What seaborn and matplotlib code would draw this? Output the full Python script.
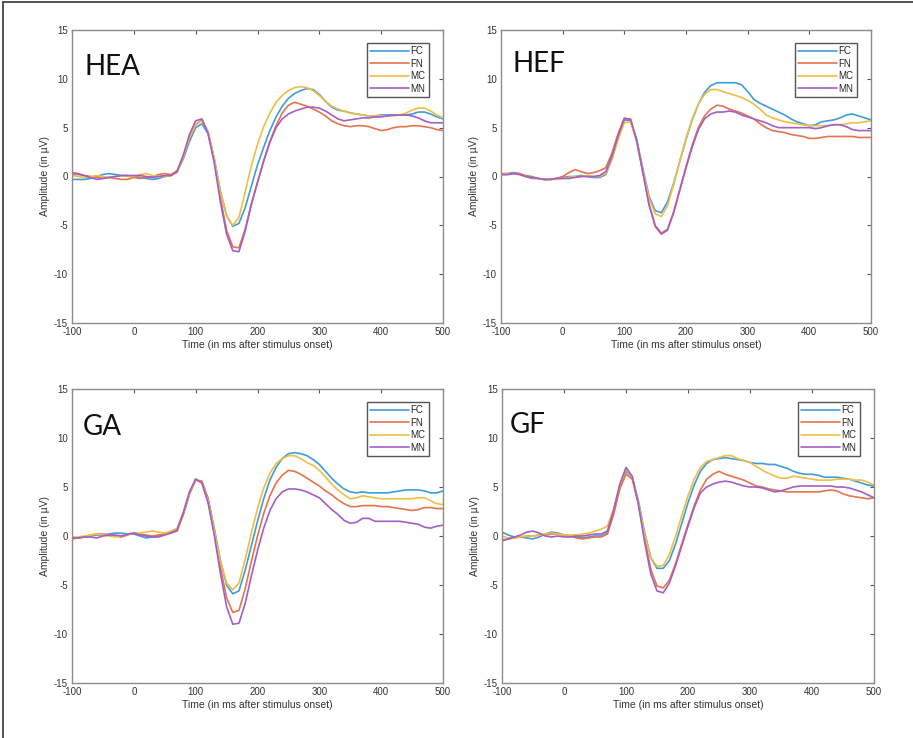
import numpy as np
import pandas as pd
import seaborn as sns
import matplotlib.pyplot as plt
from matplotlib.lines import Line2D

# sampled every 10 ms, -100 .. 500
TIME = list(range(-100, 501, 10))
CONDITIONS = ["FC", "FN", "MC", "MN"]
PALETTE = {"FC": "#3f9ddb", "FN": "#e5744d", "MC": "#efbf45", "MN": "#a45ec6"}

HEA_FC = [-0.3, -0.3, -0.3, -0.2, 0.0, 0.2, 0.3, 0.2, 0.1, 0.1,
          0.0, -0.1, -0.2, -0.3, -0.2, 0.0, 0.1, 0.5, 1.8, 3.6,
          5.0, 5.4, 4.4, 1.8, -1.5, -4.0, -5.1, -4.8, -3.2, -1.0,
          1.2, 3.0, 4.7, 6.1, 7.2, 8.0, 8.5, 8.8, 9.0, 8.9,
          8.4, 7.7, 7.1, 6.8, 6.7, 6.5, 6.4, 6.3, 6.2, 6.2,
          6.3, 6.3, 6.3, 6.3, 6.3, 6.4, 6.6, 6.6, 6.4, 6.1, 5.9]
HEA_FN = [0.2, 0.2, 0.1, 0.0, -0.1, -0.2, -0.1, -0.2, -0.3, -0.3,
          -0.1, -0.2, -0.1, 0.0, 0.2, 0.3, 0.2, 0.6, 2.1, 4.0,
          5.3, 5.8, 4.6, 1.8, -2.2, -5.5, -7.2, -7.3, -5.4, -2.8,
          -0.6, 1.6, 3.6, 5.2, 6.5, 7.3, 7.6, 7.4, 7.2, 6.9,
          6.6, 6.2, 5.7, 5.4, 5.2, 5.1, 5.2, 5.2, 5.1, 4.9,
          4.7, 4.8, 5.0, 5.1, 5.1, 5.2, 5.2, 5.1, 5.0, 4.8, 4.7]
HEA_MC = [0.1, 0.0, -0.1, 0.0, 0.1, 0.0, -0.1, 0.0, 0.1, 0.0,
          0.0, 0.2, 0.3, 0.1, 0.0, 0.0, 0.1, 0.4, 2.0, 4.0,
          5.3, 5.7, 4.6, 1.8, -1.6, -4.0, -5.0, -4.2, -1.6, 1.1,
          3.3, 5.1, 6.5, 7.6, 8.3, 8.8, 9.1, 9.2, 9.1, 8.8,
          8.3, 7.7, 7.2, 6.9, 6.7, 6.5, 6.4, 6.3, 6.2, 6.2,
          6.2, 6.2, 6.2, 6.3, 6.5, 6.8, 7.0, 7.0, 6.7, 6.3, 6.0]
HEA_MN = [0.4, 0.3, 0.1, -0.1, -0.3, -0.2, -0.1, 0.0, 0.1, 0.1,
          0.1, 0.1, 0.0, -0.1, 0.0, 0.1, 0.1, 0.5, 2.2, 4.3,
          5.7, 5.9, 4.4, 1.4, -2.6, -5.9, -7.6, -7.7, -5.6, -2.9,
          -0.6, 1.6, 3.5, 5.0, 5.9, 6.4, 6.7, 6.9, 7.1, 7.1,
          7.0, 6.7, 6.3, 5.9, 5.7, 5.8, 5.9, 6.0, 6.0, 6.1,
          6.1, 6.2, 6.3, 6.3, 6.3, 6.2, 6.0, 5.7, 5.5, 5.5, 5.5]

HEF_FC = [0.3, 0.3, 0.4, 0.3, 0.0, -0.2, -0.2, -0.3, -0.3, -0.2,
          -0.1, 0.0, 0.0, 0.1, 0.0, -0.1, -0.1, 0.2, 1.8, 4.0,
          5.8, 5.7, 3.8, 0.8, -2.0, -3.5, -3.7, -2.6, -0.7, 1.6,
          3.8, 5.8, 7.4, 8.6, 9.3, 9.6, 9.6, 9.6, 9.6, 9.4,
          8.7, 7.9, 7.5, 7.2, 6.9, 6.6, 6.3, 5.9, 5.6, 5.4,
          5.2, 5.3, 5.6, 5.7, 5.8, 6.0, 6.3, 6.4, 6.2, 6.0, 5.8]
HEF_FN = [0.2, 0.2, 0.3, 0.3, 0.1, 0.0, -0.2, -0.3, -0.3, -0.2,
          0.0, 0.4, 0.7, 0.5, 0.3, 0.4, 0.6, 0.9, 2.4, 4.4,
          6.0, 5.8, 3.6, 0.5, -2.8, -5.0, -5.8, -5.4, -3.6, -1.3,
          1.0, 3.2, 5.0, 6.2, 6.9, 7.3, 7.2, 6.9, 6.7, 6.5,
          6.2, 5.9, 5.4, 5.0, 4.7, 4.6, 4.5, 4.3, 4.2, 4.1,
          3.9, 3.9, 4.0, 4.1, 4.1, 4.1, 4.1, 4.1, 4.0, 4.0, 4.0]
HEF_MC = [0.2, 0.3, 0.3, 0.2, 0.0, -0.1, -0.2, -0.3, -0.3, -0.3,
          -0.2, -0.1, 0.0, 0.0, 0.1, 0.0, 0.0, 0.3, 1.8, 3.8,
          5.5, 5.6, 3.6, 0.6, -2.2, -3.8, -4.1, -3.0, -0.8, 1.6,
          3.9, 5.9, 7.4, 8.4, 8.9, 8.9, 8.7, 8.5, 8.3, 8.1,
          7.8, 7.4, 6.9, 6.3, 6.0, 5.8, 5.6, 5.5, 5.4, 5.3,
          5.2, 5.2, 5.2, 5.2, 5.3, 5.3, 5.4, 5.5, 5.5, 5.6, 5.7]
HEF_MN = [0.2, 0.2, 0.3, 0.2, 0.0, -0.1, -0.2, -0.3, -0.3, -0.2,
          -0.2, -0.2, -0.1, 0.0, 0.0, 0.0, 0.1, 0.5, 2.1, 4.2,
          5.9, 5.9, 3.7, 0.4, -2.9, -5.1, -5.9, -5.5, -3.7, -1.4,
          0.9, 3.0, 4.8, 5.9, 6.4, 6.6, 6.6, 6.7, 6.6, 6.3,
          6.1, 5.9, 5.7, 5.5, 5.2, 5.0, 5.0, 5.0, 5.0, 5.0,
          5.0, 4.9, 5.0, 5.2, 5.3, 5.3, 5.1, 4.8, 4.7, 4.7, 4.7]

GA_FC = [-0.2, -0.2, -0.1, 0.0, 0.1, 0.1, 0.2, 0.3, 0.3, 0.2,
         0.2, 0.0, -0.2, -0.1, 0.0, 0.2, 0.4, 0.7, 2.2, 4.3,
         5.8, 5.5, 3.8, 0.8, -2.5, -5.0, -5.9, -5.6, -3.5, -1.0,
         1.5, 3.8, 5.7, 7.0, 7.9, 8.4, 8.5, 8.4, 8.2, 7.8,
         7.3, 6.6, 5.9, 5.3, 4.8, 4.5, 4.4, 4.5, 4.4, 4.4,
         4.4, 4.4, 4.5, 4.6, 4.7, 4.7, 4.7, 4.6, 4.4, 4.4, 4.6]
GA_FN = [-0.3, -0.2, -0.1, 0.1, 0.2, 0.2, 0.1, 0.0, -0.1, 0.1,
         0.3, 0.2, 0.1, 0.0, 0.1, 0.2, 0.3, 0.5, 2.2, 4.3,
         5.7, 5.6, 3.8, 0.6, -3.2, -6.3, -7.8, -7.6, -5.4, -2.6,
         0.0, 2.3, 4.1, 5.4, 6.2, 6.7, 6.6, 6.3, 5.9, 5.5,
         5.1, 4.6, 4.2, 3.7, 3.3, 3.0, 3.0, 3.1, 3.1, 3.1,
         3.0, 3.0, 2.9, 2.8, 2.7, 2.6, 2.7, 2.9, 2.9, 2.8, 2.8]
GA_MC = [-0.1, -0.1, 0.0, 0.1, 0.2, 0.1, 0.0, -0.1, 0.0, 0.2,
         0.3, 0.3, 0.4, 0.5, 0.4, 0.3, 0.5, 0.8, 2.4, 4.4,
         5.8, 5.4, 3.6, 0.6, -2.6, -4.8, -5.5, -4.8, -2.4, 0.3,
         2.8, 4.9, 6.4, 7.4, 7.9, 8.2, 8.2, 7.9, 7.5, 7.2,
         6.7, 6.0, 5.3, 4.7, 4.2, 3.8, 3.9, 4.1, 4.0, 3.9,
         3.8, 3.8, 3.8, 3.8, 3.8, 3.8, 3.9, 3.9, 3.6, 3.3, 3.2]
GA_MN = [-0.2, -0.2, -0.1, -0.1, -0.2, 0.0, 0.1, 0.1, 0.0, 0.2,
         0.3, 0.1, 0.0, -0.1, -0.1, 0.1, 0.3, 0.6, 2.4, 4.5,
         5.8, 5.4, 3.4, 0.1, -3.8, -7.2, -9.0, -8.9, -6.9, -4.1,
         -1.5, 0.8, 2.6, 3.8, 4.5, 4.8, 4.8, 4.7, 4.5, 4.2,
         3.9, 3.3, 2.7, 2.2, 1.6, 1.3, 1.4, 1.8, 1.8, 1.5,
         1.5, 1.5, 1.5, 1.5, 1.4, 1.3, 1.2, 0.9, 0.8, 1.0, 1.1]

GF_FC = [0.4, 0.1, -0.1, -0.1, -0.2, -0.3, -0.1, 0.2, 0.4, 0.3,
         0.1, 0.0, -0.1, -0.2, -0.1, 0.0, 0.0, 0.3, 2.4, 5.0,
         6.6, 6.0, 3.6, 0.4, -2.2, -3.3, -3.3, -2.5, -0.8, 1.3,
         3.4, 5.2, 6.6, 7.4, 7.8, 7.9, 8.0, 7.9, 7.8, 7.7,
         7.5, 7.4, 7.4, 7.3, 7.3, 7.1, 6.9, 6.6, 6.4, 6.3,
         6.3, 6.2, 6.0, 6.0, 6.0, 5.9, 5.8, 5.6, 5.4, 5.2, 5.1]
GF_FN = [-0.4, -0.3, -0.2, -0.1, 0.0, 0.0, 0.1, 0.1, 0.2, 0.2,
         0.1, 0.0, -0.2, -0.3, -0.2, -0.1, -0.1, 0.2, 2.2, 4.8,
         6.3, 5.8, 3.3, -0.2, -3.4, -5.1, -5.3, -4.5, -2.8, -0.8,
         1.2, 3.1, 4.7, 5.8, 6.3, 6.6, 6.3, 6.1, 5.9, 5.7,
         5.4, 5.1, 5.0, 4.8, 4.7, 4.6, 4.5, 4.5, 4.5, 4.5,
         4.5, 4.5, 4.6, 4.7, 4.6, 4.3, 4.1, 4.0, 3.9, 3.8, 3.9]
GF_MC = [0.0, -0.2, -0.2, -0.1, 0.0, 0.0, 0.1, 0.2, 0.3, 0.2,
         0.1, 0.1, 0.1, 0.2, 0.3, 0.5, 0.7, 1.0, 2.8, 5.2,
         6.8, 6.0, 3.4, 0.2, -2.2, -3.1, -3.0, -1.9, 0.0, 2.1,
         4.1, 5.8, 7.0, 7.6, 7.8, 8.0, 8.2, 8.2, 7.9, 7.7,
         7.5, 7.1, 6.7, 6.4, 6.1, 5.9, 5.9, 6.1, 6.0, 5.9,
         5.8, 5.7, 5.7, 5.7, 5.8, 5.8, 5.8, 5.7, 5.7, 5.5, 5.2]
GF_MN = [-0.5, -0.3, -0.1, 0.1, 0.4, 0.5, 0.3, 0.0, -0.1, 0.0,
         -0.1, -0.1, 0.0, 0.0, 0.1, 0.2, 0.2, 0.5, 2.6, 5.3,
         7.0, 6.1, 3.2, -0.6, -3.9, -5.6, -5.8, -4.8, -3.0, -1.0,
         1.0, 2.9, 4.4, 5.0, 5.3, 5.5, 5.6, 5.5, 5.3, 5.1,
         5.0, 5.0, 4.9, 4.7, 4.5, 4.6, 4.8, 5.0, 5.1, 5.1,
         5.1, 5.1, 5.1, 5.1, 5.0, 5.0, 4.9, 4.7, 4.5, 4.2, 3.9]

PANELS = {
    "HEA": [HEA_FC, HEA_FN, HEA_MC, HEA_MN],
    "HEF": [HEF_FC, HEF_FN, HEF_MC, HEF_MN],
    "GA": [GA_FC, GA_FN, GA_MC, GA_MN],
    "GF": [GF_FC, GF_FN, GF_MC, GF_MN],
}

W, H = 913, 738
# axes boxes in pixels: left, top, right, bottom
BOXES = {
    "HEA": (72, 30, 443, 323),
    "HEF": (501, 30, 871, 323),
    "GA": (72, 389, 443, 683),
    "GF": (502, 389, 874, 683),
}
LABEL_X = {"HEA": 0.035, "HEF": 0.03, "GA": 0.03, "GF": 0.022}
LABEL_Y = {"HEA": 0.848, "HEF": 0.855, "GA": 0.845, "GF": 0.85}


def long_frame(series):
    rows = []
    for cond, vals in zip(CONDITIONS, series):
        rows.append(pd.DataFrame({"time": TIME, "amp": vals, "cond": cond}))
    return pd.concat(rows, ignore_index=True)


sns.set_style("white")
plt.rcParams["font.family"] = ["Liberation Sans", "DejaVu Sans"]
plt.rcParams["axes.unicode_minus"] = False

fig = plt.figure(figsize=(W / 100, H / 100), dpi=100)

for name, series in PANELS.items():
    l, t, r, b = BOXES[name]
    ax = fig.add_axes([l / W, 1 - b / H, (r - l) / W, (b - t) / H])
    sns.lineplot(
        data=long_frame(series),
        x="time",
        y="amp",
        hue="cond",
        hue_order=CONDITIONS,
        palette=PALETTE,
        estimator=None,
        linewidth=1.2,
        ax=ax,
    )
    ax.set_xlim(-100, 500)
    ax.set_ylim(-15, 15)
    ax.set_xticks(range(-100, 501, 100))
    ax.set_yticks(range(-15, 16, 5))
    ax.tick_params(direction="in", top=True, right=True, length=3, width=0.8,
                   labelsize=7, colors="#555555", labelcolor="#333333", pad=3)
    for s in ax.spines.values():
        s.set_color("#8c8c8c")
        s.set_linewidth(1.0)
    ax.set_xlabel("Time (in ms after stimulus onset)", fontsize=7.5, color="#333333", labelpad=2)
    ax.set_ylabel("Amplitude (in µV)", fontsize=7.5, color="#333333", labelpad=3)
    ax.text(LABEL_X[name], LABEL_Y[name], name, transform=ax.transAxes,
            fontsize=20, family=["Lato", "DejaVu Sans"], color="#111111", va="baseline")
    sns.move_legend(
        ax, "upper right",
        bbox_to_anchor=(1 - 9 / (r - l), 1 - 8 / (b - t)),
        title=None, frameon=True, fontsize=7, handlelength=4.0,
        handletextpad=0.2, labelspacing=0.25, borderpad=0.35,
        fancybox=False, edgecolor="#555555", framealpha=1,
    )
    ax.get_legend().get_frame().set_linewidth(1.0)

# outer frame: left and top edges
fig.add_artist(Line2D([3 / W, 3 / W], [0, 1 - 2 / H], color="#444444", lw=1.3))
fig.add_artist(Line2D([3 / W, 1], [1 - 2 / H, 1 - 2 / H], color="#444444", lw=1.3))

fig.savefig("out.png", dpi=100)
